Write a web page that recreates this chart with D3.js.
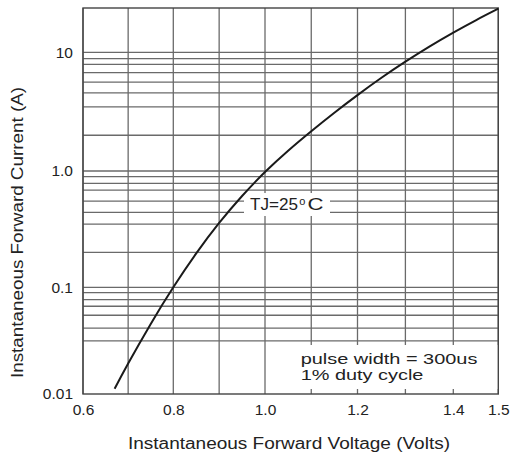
<!DOCTYPE html>
<html>
<head>
<meta charset="utf-8">
<script src="https://cdn.jsdelivr.net/npm/d3@7"></script>
<style>
  html, body { margin: 0; padding: 0; background: #fff; }
  svg { display: block; }
  text { font-family: "Liberation Sans", Arial, Helvetica, sans-serif; fill: #222; }
</style>
</head>
<body>
<svg id="chart" width="515" height="458"></svg>
<script>
// ---- data ----
const voltage = [0.67, 0.70, 0.75, 0.80, 0.85, 0.90, 0.95, 1.00, 1.05, 1.10, 1.15, 1.20, 1.25, 1.30, 1.35, 1.40, 1.45, 1.50];
const current = [0.01121, 0.01931, 0.04539, 0.1, 0.1956, 0.3572, 0.6095, 0.9804, 1.483, 2.164, 3.099, 4.359, 6.098, 8.334, 11.17, 14.66, 18.61, 23.29];

const xGrid = [0.6, 0.7, 0.8, 0.9, 1.0, 1.1, 1.2, 1.3, 1.4, 1.5];
const yGrid = [10, 8.85, 7.9, 6.75, 5.6, 4.55, 3.47, 2.0,
               1.0, 0.893, 0.784, 0.686, 0.55, 0.44, 0.349, 0.2,
               0.1, 0.089, 0.0767, 0.0664, 0.0547, 0.0414, 0.0315];
const xTicks = [0.6, 0.8, 1.0, 1.2, 1.4, 1.5];
const xTickLabels = ["0.6", "0.8", "1.0", "1.2", "1.4", "1.5"];
const yTicks = [10, 1, 0.1, 0.01];
const yTickLabels = ["10", "1.0", "0.1", "0.01"];
const xTitle = "Instantaneous Forward Voltage (Volts)";
const yTitle = "Instantaneous Forward Current (A)";
const noteLines = ["pulse width = 300us", "1% duty cycle"];
const tempLabel = ["TJ=25", "o", "C"];

// ---- layout ----
const svg = d3.select("#chart");
const plotTop = 8;
const x = d3.scaleLinear()
  .domain([0.6, 0.8, 1.0, 1.2, 1.4, 1.5])
  .range([83, 173.3, 265, 357.5, 453.3, 498.3]);
const y = d3.scaleLog()
  .domain([0.01, 0.1, 1, 10])
  .range([394, 287.3, 171, 52.3]);
const x0 = x(0.6), x1 = x(1.5), yB = y(0.01);

const gridColor = "#6a6a6a";

// grid lines
svg.append("g").selectAll("line").data(yGrid).join("line")
  .attr("x1", x0).attr("x2", x1)
  .attr("y1", d => y(d)).attr("y2", d => y(d))
  .attr("stroke", gridColor).attr("stroke-width", 1.3);
svg.append("g").selectAll("line").data(xGrid).join("line")
  .attr("x1", d => x(d)).attr("x2", d => x(d))
  .attr("y1", plotTop).attr("y2", yB)
  .attr("stroke", gridColor).attr("stroke-width", 1.3);

// frame
svg.append("rect")
  .attr("x", x0).attr("y", plotTop)
  .attr("width", x1 - x0).attr("height", yB - plotTop)
  .attr("fill", "none").attr("stroke", "#444").attr("stroke-width", 1.4);

// white label backgrounds
svg.append("rect").attr("x", 290).attr("y", 345).attr("width", x1 - 1 - 290).attr("height", 44).attr("fill", "#fff");
svg.append("rect").attr("x", 244).attr("y", 193).attr("width", 86).attr("height", 23).attr("fill", "#fff");

// curve
const pts = voltage.map((v, i) => [v, current[i]]);
svg.append("path")
  .datum(pts)
  .attr("fill", "none")
  .attr("stroke", "#1a1a1a")
  .attr("stroke-width", 2)
  .attr("d", d3.line().x(d => x(d[0])).y(d => y(d[1])).curve(d3.curveNatural));

// axes
const xAxis = svg.append("g").attr("transform", `translate(0,${yB})`)
  .call(d3.axisBottom(x).tickValues(xTicks).tickFormat((d, i) => xTickLabels[i]).tickSize(0).tickPadding(10));
const yAxis = svg.append("g").attr("transform", `translate(${x0},0)`)
  .call(d3.axisLeft(y).tickValues(yTicks).tickFormat((d, i) => yTickLabels[i]).tickSize(0).tickPadding(10));
[xAxis, yAxis].forEach(g => {
  g.select(".domain").remove();
  g.selectAll("text").attr("font-size", 15.5).attr("fill", "#222")
    .style("font-family", '"Liberation Sans", Arial, sans-serif');
});

function stretchTo(sel, w) {
  sel.attr("textLength", w).attr("lengthAdjust", "spacingAndGlyphs");
}

// axis titles
svg.append("text").attr("x", 289).attr("y", 449).attr("text-anchor", "middle")
  .attr("font-size", 16).text(xTitle).call(stretchTo, 322);
svg.append("text").attr("transform", "translate(23,232.5) rotate(-90)").attr("text-anchor", "middle")
  .attr("font-size", 16).text(yTitle).call(stretchTo, 291);

// notes
svg.append("text").attr("x", 300.7).attr("y", 364).attr("font-size", 15).text(noteLines[0]).call(stretchTo, 176.7);
svg.append("text").attr("x", 300.7).attr("y", 379.5).attr("font-size", 15).text(noteLines[1]).call(stretchTo, 122.7);

// temperature label
svg.append("text").attr("x", 250).attr("y", 209.5).attr("font-size", 16).text(tempLabel[0]).call(stretchTo, 48);
svg.append("text").attr("x", 299.3).attr("y", 204.5).attr("font-size", 11).text(tempLabel[1]);
svg.append("text").attr("x", 307.5).attr("y", 209.5).attr("font-size", 16).text(tempLabel[2]).call(stretchTo, 16);
</script>
</body>
</html>
